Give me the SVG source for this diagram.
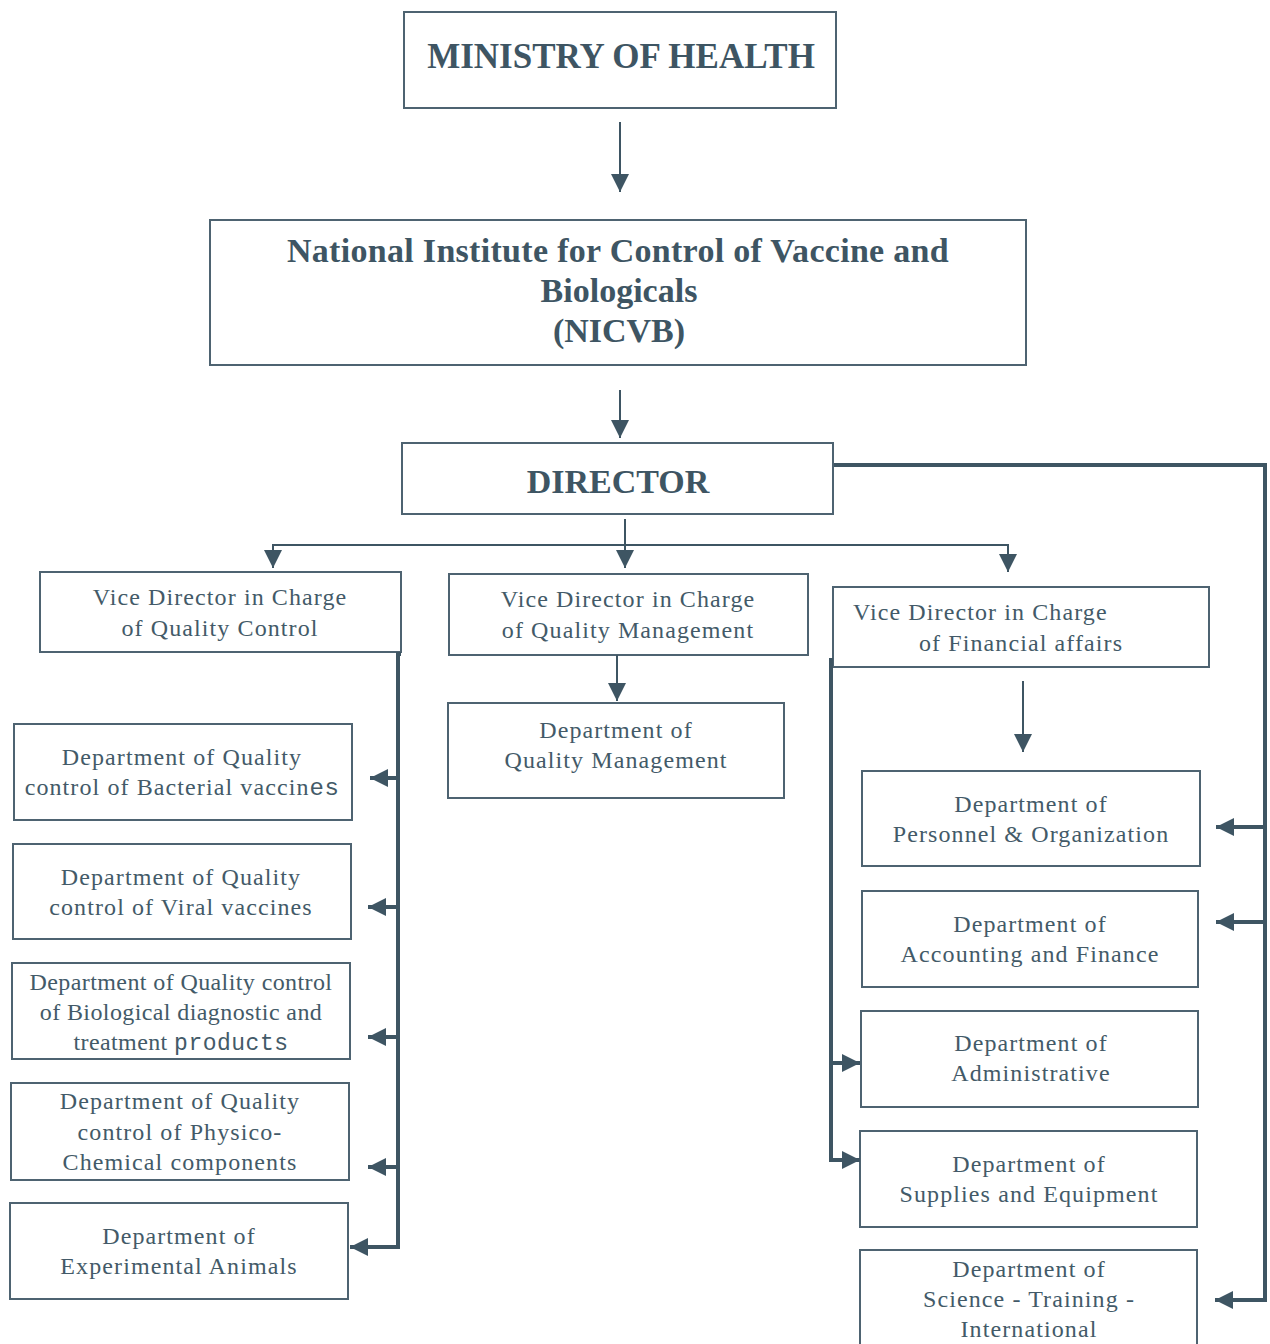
<svg xmlns="http://www.w3.org/2000/svg" width="1270" height="1344" viewBox="0 0 1270 1344">
<style>
.box{fill:#fff;stroke:#4e6371;stroke-width:2}
.t{font-family:"Liberation Serif","Times New Roman",serif;font-size:24px;fill:#435a68;text-anchor:middle;letter-spacing:1.1px}
.s{text-anchor:start}
.tb{font-family:"Liberation Serif","Times New Roman",serif;font-weight:bold;fill:#3e5563;text-anchor:middle}
.m{font-family:"Liberation Mono","Courier New",monospace;letter-spacing:0.5px}
.thin{fill:none;stroke:#3e5563;stroke-width:2}
.thick{fill:none;stroke:#3e5563;stroke-width:4}
</style>
<defs>
<marker id="ah" markerUnits="userSpaceOnUse" markerWidth="20" markerHeight="20" refX="18" refY="9" orient="auto">
<path d="M0,0 L18,9 L0,18 z" fill="#3e5563"/>
</marker>
</defs>
<rect width="1270" height="1344" fill="#fff"/>

<g id="ministry"><rect class="box" x="404" y="12" width="432" height="96"/>
<text class="tb" x="621" y="68" font-size="35">MINISTRY OF HEALTH</text></g>

<g id="nicvb"><rect class="box" x="210" y="220" width="816" height="145"/>
<text class="tb" x="618" y="262" font-size="34" letter-spacing="0.3">National Institute for Control of Vaccine and</text>
<text class="tb" x="619" y="302" font-size="34">Biologicals</text>
<text class="tb" x="619" y="342" font-size="34">(NICVB)</text></g>

<g id="director"><rect class="box" x="402" y="443" width="431" height="71"/>
<text class="tb" x="618" y="493" font-size="34">DIRECTOR</text></g>

<g id="vd-qc"><rect class="box" x="40" y="572" width="361" height="80"/>
<text class="t" x="220" y="605">Vice Director in Charge</text>
<text class="t" x="220" y="636">of Quality Control</text></g>

<g id="vd-qm"><rect class="box" x="449" y="574" width="359" height="81"/>
<text class="t" x="628" y="607">Vice Director in Charge</text>
<text class="t" x="628" y="638">of Quality Management</text></g>

<g id="vd-fa"><rect class="box" x="833" y="587" width="376" height="80"/>
<text class="t s" x="853" y="620">Vice Director in Charge</text>
<text class="t s" x="919" y="651">of Financial affairs</text></g>

<g id="dept-qm"><rect class="box" x="448" y="703" width="336" height="95"/>
<text class="t" x="616" y="738">Department of</text>
<text class="t" x="616" y="768">Quality Management</text></g>

<g id="dept-bact"><rect class="box" x="14" y="724" width="338" height="96"/>
<text class="t" x="182" y="765">Department of Quality</text>
<text class="t" x="182" y="795">control of Bacterial vaccin<tspan class="m">es</tspan></text></g>

<g id="dept-viral"><rect class="box" x="13" y="844" width="338" height="95"/>
<text class="t" x="181" y="885">Department of Quality</text>
<text class="t" x="181" y="915">control of Viral vaccines</text></g>

<g id="dept-bio"><rect class="box" x="12" y="963" width="338" height="96"/>
<text class="t" x="181" y="990" style="letter-spacing:0.4px">Department of Quality control</text>
<text class="t" x="181" y="1020" style="letter-spacing:0.4px">of Biological diagnostic and</text>
<text class="t" x="181" y="1050" style="letter-spacing:0.4px">treatment  <tspan class="m" font-size="23">products</tspan></text></g>

<g id="dept-physico"><rect class="box" x="11" y="1083" width="338" height="97"/>
<text class="t" x="180" y="1109">Department of Quality</text>
<text class="t" x="180" y="1140">control of Physico-</text>
<text class="t" x="180" y="1170">Chemical components</text></g>

<g id="dept-animals"><rect class="box" x="10" y="1203" width="338" height="96"/>
<text class="t" x="179" y="1244">Department of</text>
<text class="t" x="179" y="1274">Experimental Animals</text></g>

<g id="dept-personnel"><rect class="box" x="862" y="771" width="338" height="95"/>
<text class="t" x="1031" y="812">Department of</text>
<text class="t" x="1031" y="842">Personnel &amp; Organization</text></g>

<g id="dept-accounting"><rect class="box" x="862" y="891" width="336" height="96"/>
<text class="t" x="1030" y="932">Department of</text>
<text class="t" x="1030" y="962">Accounting and Finance</text></g>

<g id="dept-admin"><rect class="box" x="861" y="1011" width="337" height="96"/>
<text class="t" x="1031" y="1051">Department of</text>
<text class="t" x="1031" y="1081">Administrative</text></g>

<g id="dept-supplies"><rect class="box" x="860" y="1131" width="337" height="96"/>
<text class="t" x="1029" y="1172">Department of</text>
<text class="t" x="1029" y="1202">Supplies and Equipment</text></g>

<g id="dept-science"><rect class="box" x="860" y="1250" width="337" height="100"/>
<text class="t" x="1029" y="1277">Department of</text>
<text class="t" x="1029" y="1307">Science - Training -</text>
<text class="t" x="1029" y="1337">International</text></g>

<g id="connectors">
<line class="thin" x1="620" y1="122" x2="620" y2="192" marker-end="url(#ah)"/>
<line class="thin" x1="620" y1="390" x2="620" y2="438" marker-end="url(#ah)"/>
<line class="thin" x1="625" y1="519" x2="625" y2="568" marker-end="url(#ah)"/>
<polyline class="thin" points="273,568 273,545 1008,545 1008,572" marker-end="url(#ah)"/>
<line class="thin" x1="273" y1="546" x2="273" y2="568" marker-end="url(#ah)"/>
<line class="thin" x1="617" y1="655" x2="617" y2="701" marker-end="url(#ah)"/>
<line class="thin" x1="1023" y1="681" x2="1023" y2="752" marker-end="url(#ah)"/>

<polyline class="thick" points="401,654 398,654 398,1247 350,1247" marker-end="url(#ah)"/>
<line class="thick" x1="398" y1="778" x2="370" y2="778" marker-end="url(#ah)"/>
<line class="thick" x1="398" y1="907" x2="368" y2="907" marker-end="url(#ah)"/>
<line class="thick" x1="398" y1="1037" x2="368" y2="1037" marker-end="url(#ah)"/>
<line class="thick" x1="398" y1="1167" x2="368" y2="1167" marker-end="url(#ah)"/>

<polyline class="thick" points="831,658 831,1160 860,1160" marker-end="url(#ah)"/>
<line class="thick" x1="831" y1="1063" x2="860" y2="1063" marker-end="url(#ah)"/>

<polyline class="thick" points="834,465 1265,465 1265,1300 1215,1300" marker-end="url(#ah)"/>
<line class="thick" x1="1265" y1="827" x2="1216" y2="827" marker-end="url(#ah)"/>
<line class="thick" x1="1265" y1="922" x2="1216" y2="922" marker-end="url(#ah)"/>
</g>
</svg>
